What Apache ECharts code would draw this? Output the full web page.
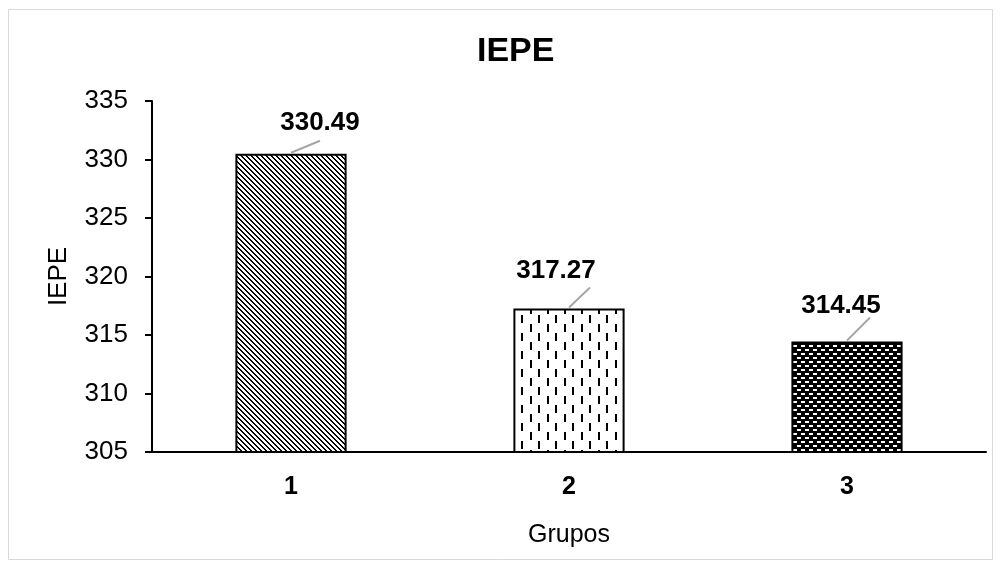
<!DOCTYPE html>
<html>
<head>
<meta charset="utf-8">
<script src="https://cdn.jsdelivr.net/npm/echarts@6/dist/echarts.min.js"></script>
<style>
  html, body { margin: 0; padding: 0; background: #fff; }
  #chart { width: 1002px; height: 568px; }
</style>
</head>
<body>
<div id="chart"></div>
<script>
// Group means of the IEPE score
const categories = ['1', '2', '3'];
const values = [330.49, 317.27, 314.45];
const yTicks = { min: 305, max: 335, step: 5 };

// Leader-line end and label centre, relative to each bar's top centre
const labelOffsets = [
  { lx: 29, ly: -13, tx: 29, ty: -31 },
  { lx: 21, ly: -21, tx: -13, ty: -38 },
  { lx: 23, ly: -24, tx: -6, ty: -36 }
];

const FONT = '"Liberation Sans", Arial, sans-serif';

// Monochrome fill patterns for the three bars
function makeTile(w, h, draw) {
  const c = document.createElement('canvas');
  c.width = w; c.height = h;
  draw(c.getContext('2d'));
  return { image: c, repeat: 'repeat' };
}
const diagonalFill = makeTile(5, 5, ctx => {
  ctx.fillStyle = '#fff'; ctx.fillRect(0, 0, 5, 5);
  ctx.fillStyle = '#000';
  for (let y = 0; y < 5; y++) {
    for (let x = 0; x < 5; x++) {
      if ((((x - y) % 5) + 5) % 5 < 2) ctx.fillRect(x, y, 1, 1);
    }
  }
});
const dashVerticalFill = makeTile(17, 18, ctx => {
  ctx.fillStyle = '#fff'; ctx.fillRect(0, 0, 17, 18);
  ctx.fillStyle = '#000';
  ctx.fillRect(3, 0, 2, 8);
  ctx.fillRect(11, 9, 2, 8);
});
const brickFill = makeTile(8, 8, ctx => {
  ctx.fillStyle = '#000'; ctx.fillRect(0, 0, 8, 8);
  ctx.fillStyle = '#fff';
  ctx.fillRect(1, 1, 4, 2);
  ctx.fillRect(5, 5, 4, 2);
  ctx.fillRect(-3, 5, 4, 2);
});
const fills = [diagonalFill, dashVerticalFill, brickFill];

const chart = echarts.init(document.getElementById('chart'), null, { renderer: 'canvas' });

chart.setOption({
  animation: false,
  backgroundColor: '#fff',
  title: {
    text: 'IEPE',
    left: 472,
    top: 30,
    textStyle: { fontFamily: FONT, fontSize: 34, fontWeight: 'bold', color: '#000' }
  },
  graphic: [{
    type: 'rect',
    shape: { x: 8.5, y: 9.5, width: 984, height: 550 },
    style: { fill: 'none', stroke: '#d9d9d9', lineWidth: 1 },
    silent: true
  }],
  grid: { left: 152, right: 16, top: 101, bottom: 116 },
  xAxis: {
    type: 'category',
    data: categories,
    name: 'Grupos',
    nameLocation: 'middle',
    nameGap: 71,
    nameTextStyle: { fontFamily: FONT, fontSize: 25, color: '#000' },
    axisLine: { lineStyle: { color: '#000', width: 2 } },
    axisTick: { alignWithLabel: true, length: 5, lineStyle: { color: '#000', width: 2 } },
    axisLabel: { margin: 23, fontFamily: FONT, fontSize: 25, fontWeight: 'bold', color: '#000' }
  },
  yAxis: {
    type: 'value',
    min: yTicks.min,
    max: yTicks.max,
    interval: yTicks.step,
    name: 'IEPE',
    nameLocation: 'middle',
    nameGap: 80,
    nameTextStyle: { fontFamily: FONT, fontSize: 26, color: '#000' },
    axisLine: { show: true, lineStyle: { color: '#000', width: 2 } },
    axisTick: { show: true, length: 7, lineStyle: { color: '#000', width: 2 } },
    axisLabel: { margin: 24, fontFamily: FONT, fontSize: 26, color: '#000' },
    splitLine: { show: false }
  },
  series: [
    {
      type: 'bar',
      barWidth: '40%',
      data: values.map((v, i) => ({
        value: v,
        itemStyle: { color: fills[i], borderColor: '#000', borderWidth: 2 }
      }))
    },
    {
      type: 'custom',
      z: 10,
      data: values.map((v, i) => [i, v]),
      renderItem(params, api) {
        const i = params.dataIndex;
        const v = api.value(1);
        const p = api.coord([api.value(0), v]);
        const o = labelOffsets[i];
        return {
          type: 'group',
          children: [
            {
              type: 'line',
              shape: { x1: p[0], y1: p[1] - 1, x2: p[0] + o.lx, y2: p[1] + o.ly },
              style: { stroke: '#a6a6a6', lineWidth: 2 }
            },
            {
              type: 'text',
              x: p[0] + o.tx,
              y: p[1] + o.ty,
              style: {
                text: v.toFixed(2),
                align: 'center',
                verticalAlign: 'middle',
                font: 'bold 26px ' + FONT,
                fill: '#000'
              }
            }
          ]
        };
      }
    }
  ]
});
</script>
</body>
</html>
